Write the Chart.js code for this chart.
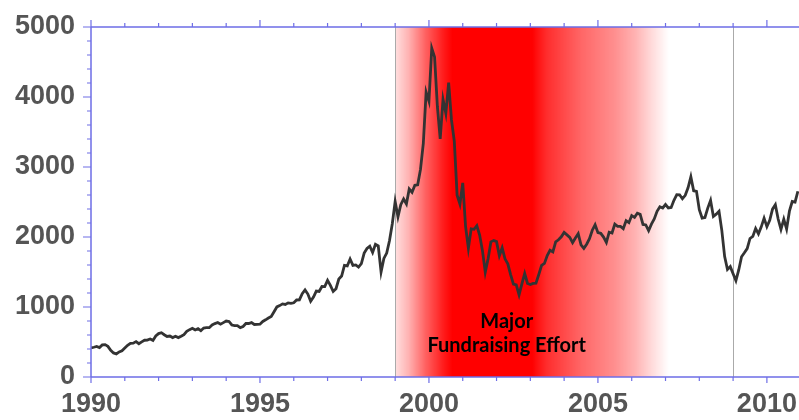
<!DOCTYPE html>
<html>
<head>
<meta charset="utf-8">
<script src="https://cdn.jsdelivr.net/npm/chart.js@4.4.0/dist/chart.umd.min.js"></script>
<style>
  html, body { margin: 0; padding: 0; background: #fff; }
  #wrap { width: 799px; height: 420px; }
</style>
</head>
<body>
<div id="wrap"><canvas id="chart" width="799" height="420"></canvas></div>
<script>
// Monthly closes, Jan 1990 .. Dec 2010 (one row per year)
const firstYear = 1990;
const closes = [
    416, 425, 436, 420, 459, 462, 438, 381, 344, 329, 359, 374,
    414, 453, 482, 484, 506, 476, 502, 525, 527, 542, 523, 586,
    620, 633, 604, 579, 585, 563, 581, 563, 583, 605, 652, 677,
    696, 671, 690, 661, 700, 704, 705, 743, 763, 779, 754, 777,
    800, 793, 743, 733, 735, 706, 722, 765, 764, 777, 750, 752,
    755, 793, 817, 843, 865, 933, 1001, 1020, 1044, 1036, 1059, 1052,
    1060, 1100, 1101, 1191, 1243, 1185, 1081, 1142, 1227, 1222, 1293, 1291,
    1380, 1310, 1222, 1261, 1400, 1442, 1594, 1587, 1686, 1594, 1601, 1570,
    1619, 1771, 1835, 1869, 1779, 1895, 1872, 1499, 1694, 1771, 1950, 2193,
    2506, 2288, 2461, 2543, 2471, 2686, 2638, 2739, 2746, 2966, 3336, 4069,
    3940, 4697, 4573, 3861, 3401, 3966, 3767, 4206, 3673, 3370, 2598, 2471,
    2773, 2152, 1840, 2116, 2110, 2161, 2027, 1805, 1499, 1690, 1931, 1950,
    1934, 1731, 1845, 1688, 1616, 1463, 1328, 1315, 1172, 1330, 1479, 1336,
    1321, 1338, 1341, 1464, 1596, 1623, 1735, 1810, 1787, 1932, 1960, 2003,
    2066, 2030, 1994, 1920, 1987, 2048, 1887, 1838, 1897, 1975, 2097, 2175,
    2062, 2052, 1999, 1922, 2068, 2057, 2185, 2152, 2152, 2120, 2233, 2205,
    2306, 2281, 2340, 2323, 2179, 2172, 2091, 2184, 2258, 2367, 2432, 2415,
    2464, 2416, 2422, 2525, 2605, 2603, 2546, 2596, 2702, 2859, 2661, 2652,
    2389, 2271, 2279, 2413, 2523, 2293, 2326, 2368, 2092, 1721, 1536, 1577,
    1476, 1378, 1529, 1717, 1774, 1835, 1979, 2009, 2122, 2045, 2145, 2269,
    2147, 2238, 2398, 2461, 2257, 2109, 2255, 2114, 2369, 2507, 2498, 2653
];

const xTickLabels = [1990, 1995, 2000, 2005, 2010];
const yTickLabels = [0, 1000, 2000, 3000, 4000, 5000];

// shaded period and its note
const bandStart = 1999;
const bandEnd = 2009;
const noteLines = ['Major', 'Fundraising Effort'];

const points = closes.map((v, i) => ({ x: firstYear + i / 12, y: v }));

const axisColor = '#6e6ee6';

// red fade band + grey boundary lines + note text
const bandPlugin = {
    id: 'band',
    beforeDatasetsDraw(chart) {
        const { ctx, chartArea, scales } = chart;
        const x = scales.x, y = scales.y;
        const x0 = x.getPixelForValue(bandStart);
        const x1 = x.getPixelForValue(bandEnd);
        const grad = ctx.createLinearGradient(x0, 0, x1, 0);
        const stops = [
            [1999.0, 0.12], [1999.4, 0.3], [1999.9, 0.62], [2000.45, 0.9],
            [2000.7, 1], [2003.05, 1], [2003.5, 0.82], [2004.5, 0.6],
            [2005.5, 0.44], [2006.1, 0.3], [2006.6, 0.14], [2007.1, 0], [2009, 0]
        ];
        stops.forEach(([yr, a]) => {
            grad.addColorStop((yr - bandStart) / (bandEnd - bandStart), 'rgba(255,0,0,' + a + ')');
        });
        ctx.save();
        ctx.fillStyle = grad;
        ctx.fillRect(x0, chartArea.top, x1 - x0, chartArea.bottom - chartArea.top);

        ctx.strokeStyle = '#aaaaaa';
        ctx.lineWidth = 1;
        [x0, x1].forEach(px => {
            ctx.beginPath();
            ctx.moveTo(Math.round(px) + 0.5, chartArea.top);
            ctx.lineTo(Math.round(px) + 0.5, chartArea.bottom);
            ctx.stroke();
        });

        ctx.fillStyle = '#000';
        ctx.font = 'bold 20px Lato';
        ctx.textAlign = 'center';
        ctx.textBaseline = 'middle';
        const tx = x.getPixelForValue(2002.3);
        ctx.fillText(noteLines[0], tx, y.getPixelForValue(790));
        ctx.fillText(noteLines[1], tx, y.getPixelForValue(445));
        ctx.restore();
    }
};

// axis lines with minor/major ticks (left, bottom, top)
const axesPlugin = {
    id: 'axes',
    afterDatasetsDraw(chart) {
        const { ctx, chartArea, scales } = chart;
        const x = scales.x, y = scales.y;
        const L = chartArea.left, R = chartArea.right, T = chartArea.top, B = chartArea.bottom;
        ctx.save();
        ctx.strokeStyle = axisColor;
        ctx.lineWidth = 1.5;
        ctx.beginPath();
        ctx.moveTo(L, T); ctx.lineTo(L, B);
        ctx.moveTo(L, B); ctx.lineTo(R, B);
        ctx.moveTo(L, T); ctx.lineTo(R, T);
        ctx.stroke();

        ctx.lineWidth = 1.2;
        ctx.beginPath();
        for (let yr = 1990; yr <= 2010; yr++) {
            const px = x.getPixelForValue(yr);
            const major = yr % 5 === 0;
            ctx.moveTo(px, B); ctx.lineTo(px, B + (major ? 6 : 4));
            ctx.moveTo(px, T); ctx.lineTo(px, T - (major ? 7 : 4));
        }
        for (let v = 0; v <= 5000; v += 200) {
            const py = y.getPixelForValue(v);
            const major = v % 1000 === 0;
            ctx.moveTo(L, py); ctx.lineTo(L - (major ? 8 : 4), py);
        }
        ctx.stroke();
        ctx.restore();
    }
};

const tickFont = { family: '"Liberation Sans", Arial, sans-serif', size: 27, weight: 'bold' };

function noPad(s) {
    s.paddingLeft = 0; s.paddingRight = 0; s.paddingTop = 0; s.paddingBottom = 0;
}

new Chart(document.getElementById('chart'), {
    type: 'line',
    data: {
        datasets: [{
            data: points,
            borderColor: '#333333',
            borderWidth: 2.8,
            pointRadius: 0,
            tension: 0,
            fill: false
        }]
    },
    options: {
        responsive: false,
        animation: false,
        layout: { padding: { top: 27, right: 0, left: 0, bottom: 0 } },
        plugins: { legend: { display: false }, tooltip: { enabled: false } },
        scales: {
            x: {
                type: 'linear',
                min: 1990,
                max: 2010.95,
                afterBuildTicks: s => { s.ticks = xTickLabels.map(v => ({ value: v })); },
                afterFit: s => { s.height = 43; noPad(s); },
                grid: { display: false, drawTicks: false },
                border: { display: false },
                ticks: {
                    color: '#555555', font: tickFont, padding: 11, maxRotation: 0, autoSkip: false,
                    callback: v => String(v)
                }
            },
            y: {
                min: 0,
                max: 5000,
                afterBuildTicks: s => { s.ticks = yTickLabels.map(v => ({ value: v })); },
                afterFit: s => { s.width = 91; noPad(s); },
                grid: { display: false, drawTicks: false },
                border: { display: false },
                ticks: { color: '#555555', font: tickFont, padding: 16, callback: v => String(v) }
            }
        }
    },
    plugins: [bandPlugin, axesPlugin]
});
</script>
</body>
</html>
